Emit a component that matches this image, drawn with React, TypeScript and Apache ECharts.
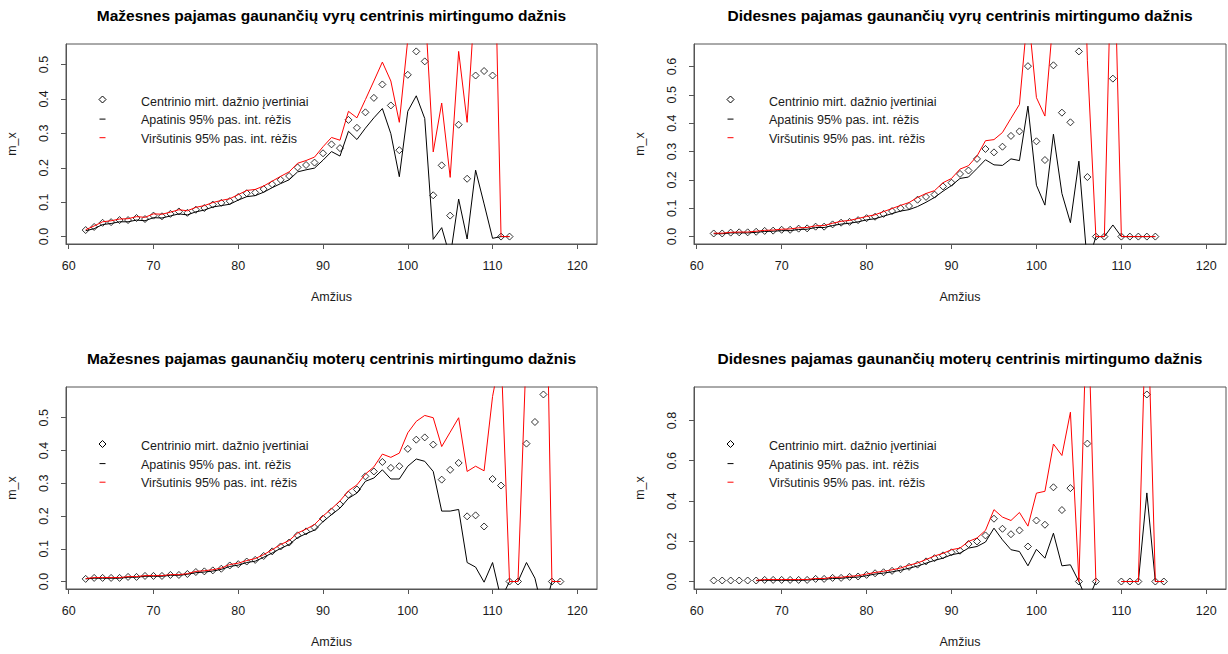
import React, { useEffect, useRef } from "react";
import * as echarts from "echarts";

const FONT = '"Liberation Sans", Arial, Helvetica, sans-serif';

// ---------------- DATA ----------------
const titles = [
  "Mažesnes pajamas gaunančių vyrų centrinis mirtingumo dažnis",
  "Didesnes pajamas gaunančių vyrų centrinis mirtingumo dažnis",
  "Mažesnes pajamas gaunančių moterų centrinis mirtingumo dažnis",
  "Didesnes pajamas gaunančių moterų centrinis mirtingumo dažnis",
];
const legendLabels = [
  "Centrinio mirt. dažnio įvertiniai",
  "Apatinis 95% pas. int. rėžis",
  "Viršutinis 95% pas. int. rėžis",
];
const xAxisTitle = "Amžius";
const yAxisTitle = "m_x";
const xDataRange = [62, 120];
const xTicks = [60, 70, 80, 90, 100, 110, 120];
const yTicks1 = [0, 0.1, 0.2, 0.3, 0.4, 0.5];
const yTicks2 = [0, 0.1, 0.2, 0.3, 0.4, 0.5, 0.6];
const yTicks3 = [0, 0.1, 0.2, 0.3, 0.4, 0.5];
const yTicks4 = [0, 0.2, 0.4, 0.6, 0.8];

// Panel 1: lower-income men
const ages1 = [62, 63, 64, 65, 66, 67, 68, 69, 70, 71, 72, 73, 74, 75, 76, 77, 78, 79, 80, 81, 82, 83, 84, 85, 86, 87, 88, 89, 90, 91, 92, 93, 94, 95, 96, 97, 98, 99, 100, 101, 102, 103, 104, 105, 106, 107, 108, 109, 110, 111, 112];
const pts1 = [0.019, 0.028, 0.040, 0.042, 0.048, 0.048, 0.054, 0.051, 0.061, 0.059, 0.066, 0.073, 0.069, 0.078, 0.083, 0.093, 0.098, 0.103, 0.115, 0.126, 0.128, 0.138, 0.152, 0.165, 0.176, 0.201, 0.208, 0.215, 0.242, 0.268, 0.257, 0.339, 0.316, 0.361, 0.403, 0.442, 0.381, 0.251, 0.470, 0.538, 0.509, 0.120, 0.207, 0.061, 0.325, 0.168, 0.468, 0.481, 0.468, 0, 0];
const lo1 = [0.017, 0.023, 0.035, 0.038, 0.043, 0.043, 0.048, 0.046, 0.055, 0.054, 0.060, 0.066, 0.063, 0.072, 0.077, 0.086, 0.090, 0.094, 0.106, 0.116, 0.119, 0.129, 0.142, 0.154, 0.165, 0.188, 0.194, 0.199, 0.222, 0.247, 0.234, 0.306, 0.282, 0.315, 0.345, 0.372, 0.299, 0.174, 0.364, 0.409, 0.343, -0.008, 0.026, -0.06, 0.109, -0.007, 0.193, 0.095, -0.005, 0, 0];
const hi1 = [0.020, 0.031, 0.043, 0.046, 0.051, 0.052, 0.058, 0.056, 0.066, 0.065, 0.071, 0.078, 0.075, 0.085, 0.090, 0.099, 0.105, 0.110, 0.122, 0.134, 0.137, 0.147, 0.161, 0.175, 0.188, 0.213, 0.221, 0.231, 0.261, 0.288, 0.280, 0.364, 0.345, 0.398, 0.452, 0.507, 0.452, 0.332, 0.573, 0.75, 0.683, 0.246, 0.388, 0.172, 0.538, 0.332, 0.72, 0.9, 1.15, 0, 0];

// Panel 2: higher-income men
const ages2 = [62, 63, 64, 65, 66, 67, 68, 69, 70, 71, 72, 73, 74, 75, 76, 77, 78, 79, 80, 81, 82, 83, 84, 85, 86, 87, 88, 89, 90, 91, 92, 93, 94, 95, 96, 97, 98, 99, 100, 101, 102, 103, 104, 105, 106, 107, 108, 109, 110, 111, 112, 113, 114];
const pts2 = [0.011, 0.011, 0.014, 0.015, 0.015, 0.017, 0.020, 0.021, 0.024, 0.024, 0.028, 0.029, 0.035, 0.035, 0.043, 0.049, 0.052, 0.058, 0.065, 0.070, 0.080, 0.090, 0.100, 0.108, 0.130, 0.140, 0.148, 0.177, 0.190, 0.221, 0.233, 0.274, 0.309, 0.297, 0.317, 0.355, 0.371, 0.601, 0.336, 0.270, 0.604, 0.437, 0.403, 0.653, 0.210, 0, 0, 0.557, 0, 0, 0, 0, 0];
const lo2 = [0.010, 0.010, 0.013, 0.013, 0.013, 0.015, 0.018, 0.019, 0.021, 0.021, 0.025, 0.026, 0.032, 0.032, 0.039, 0.044, 0.047, 0.052, 0.059, 0.063, 0.072, 0.081, 0.090, 0.095, 0.106, 0.121, 0.138, 0.160, 0.180, 0.205, 0.210, 0.240, 0.271, 0.253, 0.251, 0.274, 0.268, 0.460, 0.181, 0.111, 0.361, 0.152, 0.049, 0.266, -0.1, 0, 0, 0.041, 0, 0, 0, 0, 0];
const hi2 = [0.012, 0.012, 0.015, 0.016, 0.016, 0.019, 0.022, 0.023, 0.026, 0.027, 0.031, 0.032, 0.038, 0.039, 0.047, 0.054, 0.057, 0.064, 0.071, 0.077, 0.088, 0.099, 0.110, 0.120, 0.138, 0.152, 0.162, 0.190, 0.205, 0.238, 0.250, 0.284, 0.338, 0.342, 0.367, 0.417, 0.466, 0.80, 0.49, 0.425, 0.781, 1.0, 1.2, 1.6, 0.62, 0, 0, 1.22, 0, 0, 0, 0, 0];

// Panel 3: lower-income women
const ages3 = [62, 63, 64, 65, 66, 67, 68, 69, 70, 71, 72, 73, 74, 75, 76, 77, 78, 79, 80, 81, 82, 83, 84, 85, 86, 87, 88, 89, 90, 91, 92, 93, 94, 95, 96, 97, 98, 99, 100, 101, 102, 103, 104, 105, 106, 107, 108, 109, 110, 111, 112, 113, 114, 115, 116, 117, 118];
const pts3 = [0.008, 0.011, 0.011, 0.011, 0.011, 0.014, 0.014, 0.017, 0.017, 0.017, 0.020, 0.020, 0.023, 0.029, 0.031, 0.034, 0.039, 0.049, 0.053, 0.061, 0.066, 0.078, 0.092, 0.107, 0.119, 0.141, 0.153, 0.165, 0.192, 0.214, 0.235, 0.265, 0.281, 0.321, 0.336, 0.365, 0.347, 0.352, 0.405, 0.433, 0.440, 0.418, 0.311, 0.341, 0.362, 0.199, 0.202, 0.168, 0.313, 0.293, 0, 0, 0.421, 0.487, 0.571, 0, 0];
const lo3 = [0.008, 0.010, 0.010, 0.010, 0.010, 0.013, 0.013, 0.016, 0.016, 0.016, 0.019, 0.019, 0.022, 0.027, 0.029, 0.032, 0.037, 0.046, 0.050, 0.058, 0.062, 0.074, 0.087, 0.101, 0.113, 0.134, 0.146, 0.157, 0.183, 0.204, 0.224, 0.254, 0.270, 0.306, 0.316, 0.341, 0.313, 0.313, 0.352, 0.374, 0.367, 0.336, 0.215, 0.215, 0.220, 0.058, 0.044, -0.002, 0.058, -0.053, 0, 0, 0.058, 0.01, -0.1, 0, 0];
const hi3 = [0.009, 0.012, 0.012, 0.012, 0.012, 0.015, 0.015, 0.018, 0.018, 0.018, 0.021, 0.021, 0.024, 0.031, 0.033, 0.036, 0.041, 0.052, 0.056, 0.064, 0.070, 0.082, 0.097, 0.113, 0.125, 0.148, 0.160, 0.174, 0.200, 0.222, 0.246, 0.277, 0.295, 0.328, 0.350, 0.389, 0.379, 0.392, 0.454, 0.489, 0.507, 0.500, 0.412, 0.456, 0.500, 0.336, 0.352, 0.338, 0.565, 0.70, 0, 0, 0.72, 1.1, 1.48, 0, 0];

// Panel 4: higher-income women (null = missing)
const ages4 = [62, 63, 64, 65, 66, 67, 68, 69, 70, 71, 72, 73, 74, 75, 76, 77, 78, 79, 80, 81, 82, 83, 84, 85, 86, 87, 88, 89, 90, 91, 92, 93, 94, 95, 96, 97, 98, 99, 100, 101, 102, 103, 104, 105, 106, 107, 108, 109, 110, 111, 112, 113, 114, 115];
const pts4 = [0.005, 0.005, 0.005, 0.005, 0.005, 0.005, 0.008, 0.008, 0.008, 0.008, 0.008, 0.008, 0.013, 0.013, 0.018, 0.018, 0.023, 0.025, 0.033, 0.041, 0.046, 0.053, 0.061, 0.073, 0.084, 0.100, 0.116, 0.130, 0.145, 0.153, 0.186, 0.199, 0.229, 0.312, 0.262, 0.235, 0.254, 0.174, 0.303, 0.282, 0.468, 0.355, 0.464, 0, 0.685, 0, null, null, 0, 0, 0, 0.929, 0, 0];
const lo4 = [null, null, null, null, null, 0.004, 0.006, 0.006, 0.006, 0.006, 0.006, 0.007, 0.011, 0.011, 0.015, 0.016, 0.020, 0.022, 0.029, 0.037, 0.042, 0.048, 0.056, 0.066, 0.077, 0.091, 0.105, 0.116, 0.133, 0.141, 0.166, 0.174, 0.196, 0.265, 0.207, 0.158, 0.149, 0.078, 0.160, 0.116, 0.240, 0.078, 0.083, 0, -0.1, 0, null, null, 0, 0, 0, 0.44, 0, 0];
const hi4 = [null, null, null, null, null, 0.006, 0.010, 0.010, 0.010, 0.010, 0.010, 0.010, 0.015, 0.015, 0.021, 0.021, 0.026, 0.029, 0.037, 0.045, 0.051, 0.058, 0.067, 0.081, 0.092, 0.109, 0.127, 0.140, 0.158, 0.166, 0.199, 0.216, 0.254, 0.357, 0.320, 0.303, 0.343, 0.275, 0.439, 0.448, 0.683, 0.626, 0.841, 0, 1.45, 0, null, null, 0, 0, 0, 1.52, 0, 0];

// ---------------- LAYOUT ----------------
const layouts = [
  { left: 66, top: 44, width: 531, height: 200, legendY: 101.5 },
  { left: 694, top: 44, width: 532, height: 200, legendY: 101.5 },
  { left: 66, top: 387, width: 531, height: 202, legendY: 446 },
  { left: 694, top: 387, width: 532, height: 202, legendY: 446 },
];

const panelData = [
  { ages: ages1, pts: pts1, lo: lo1, hi: hi1, yTicks: yTicks1 },
  { ages: ages2, pts: pts2, lo: lo2, hi: hi2, yTicks: yTicks2 },
  { ages: ages3, pts: pts3, lo: lo3, hi: hi3, yTicks: yTicks3 },
  { ages: ages4, pts: pts4, lo: lo4, hi: hi4, yTicks: yTicks4 },
];

const BOX = "#555";
const TXT = "#1a1a1a";

function pairs(ages: number[], vals: (number | null)[]) {
  return ages.map((a, k) => [a, vals[k] === null || vals[k] === undefined ? "-" : vals[k]]);
}

function buildOption() {
  const xSpan = xDataRange[1] - xDataRange[0];
  const xMin = xDataRange[0] - 0.04 * xSpan;
  const xMax = xDataRange[1] + 0.04 * xSpan;

  const grid: any[] = [];
  const xAxis: any[] = [];
  const yAxis: any[] = [];
  const series: any[] = [];
  const graphic: any[] = [];

  layouts.forEach((l, i) => {
    const d = panelData[i];
    const yTop = Math.max(...(d.pts.filter((v) => v !== null) as number[]));
    grid.push({
      left: l.left,
      top: l.top,
      width: l.width,
      height: l.height,
      show: true,
      borderColor: BOX,
      borderWidth: 1,
      backgroundColor: "transparent",
    });
    xAxis.push({
      type: "value",
      gridIndex: i,
      min: xMin,
      max: xMax,
      axisLine: { show: true, onZero: false, lineStyle: { color: BOX, width: 1 } },
      axisTick: { show: true, inside: false, length: 5, customValues: xTicks, lineStyle: { color: BOX, width: 1 } },
      axisLabel: {
        show: true,
        customValues: xTicks,
        margin: 15,
        fontSize: 12.5,
        color: TXT,
        fontFamily: FONT,
        formatter: (v: number) => String(v),
      },
      splitLine: { show: false },
    });
    yAxis.push({
      type: "value",
      gridIndex: i,
      min: -0.04 * yTop,
      max: 1.04 * yTop,
      axisLine: { show: true, onZero: false, lineStyle: { color: BOX, width: 1 } },
      axisTick: { show: true, inside: false, length: 5, customValues: d.yTicks, lineStyle: { color: BOX, width: 1 } },
      axisLabel: {
        show: true,
        customValues: d.yTicks,
        rotate: 90,
        margin: 16,
        fontSize: 12.5,
        color: TXT,
        fontFamily: FONT,
        formatter: (v: number) => v.toFixed(1),
      },
      splitLine: { show: false },
    });
    series.push({
      type: "scatter",
      xAxisIndex: i,
      yAxisIndex: i,
      data: pairs(d.ages, d.pts),
      symbol: "diamond",
      symbolSize: 7,
      itemStyle: { color: "rgba(0,0,0,0)", borderColor: "#000", borderWidth: 1 },
      silent: true,
      z: 2,
    });
    series.push({
      type: "line",
      xAxisIndex: i,
      yAxisIndex: i,
      data: pairs(d.ages, d.lo),
      showSymbol: false,
      symbol: "none",
      clip: true,
      lineStyle: { color: "#000", width: 1 },
      silent: true,
      z: 3,
    });
    series.push({
      type: "line",
      xAxisIndex: i,
      yAxisIndex: i,
      data: pairs(d.ages, d.hi),
      showSymbol: false,
      symbol: "none",
      clip: true,
      lineStyle: { color: "#ff0000", width: 1 },
      silent: true,
      z: 4,
    });

    const cx = l.left + l.width / 2;
    const cy = l.top + l.height / 2;
    // title
    graphic.push({
      type: "text",
      x: cx,
      y: l.top - 29,
      style: {
        text: titles[i],
        font: `bold 15.5px ${FONT}`,
        fill: "#000",
        textAlign: "center",
        textVerticalAlign: "middle",
      },
    });
    // x axis title
    graphic.push({
      type: "text",
      x: cx,
      y: l.top + l.height + 53,
      style: { text: xAxisTitle, font: `12.5px ${FONT}`, fill: TXT, textAlign: "center", textVerticalAlign: "middle" },
    });
    // y axis title
    graphic.push({
      type: "text",
      x: l.left - 54,
      y: cy,
      rotation: Math.PI / 2,
      style: { text: yAxisTitle, font: `12.5px ${FONT}`, fill: TXT, textAlign: "center", textVerticalAlign: "middle" },
    });
    // legend
    const sx = l.left + 36.5;
    const tx = l.left + 75;
    const r0 = l.legendY;
    const step = 18.6;
    const dy = r0 - 2;
    graphic.push({
      type: "polygon",
      shape: { points: [[sx, dy - 3.5], [sx + 3.5, dy], [sx, dy + 3.5], [sx - 3.5, dy]] },
      style: { fill: "none", stroke: "#000", lineWidth: 1 },
    });
    graphic.push({
      type: "line",
      shape: { x1: sx - 3, y1: r0 + step - 1, x2: sx + 3, y2: r0 + step - 1 },
      style: { stroke: "#000", lineWidth: 1 },
    });
    graphic.push({
      type: "line",
      shape: { x1: sx - 3, y1: r0 + 2 * step - 1, x2: sx + 3, y2: r0 + 2 * step - 1 },
      style: { stroke: "#ff0000", lineWidth: 1 },
    });
    legendLabels.forEach((lab, k) => {
      graphic.push({
        type: "text",
        x: tx,
        y: r0 + k * step,
        style: { text: lab, font: `12.5px ${FONT}`, fill: TXT, textAlign: "left", textVerticalAlign: "middle" },
      });
    });
  });

  return {
    animation: false,
    backgroundColor: "#ffffff",
    grid,
    xAxis,
    yAxis,
    series,
    graphic,
  };
}

export default function App() {
  const ref = useRef<HTMLDivElement>(null);
  useEffect(() => {
    if (!ref.current) return;
    const chart = echarts.init(ref.current, null, { renderer: "svg" });
    chart.setOption(buildOption() as any);
    return () => chart.dispose();
  }, []);
  return (
    <div
      ref={ref}
      style={{ position: "absolute", left: 0, top: 0, width: 1228, height: 654, background: "#fff" }}
    />
  );
}
